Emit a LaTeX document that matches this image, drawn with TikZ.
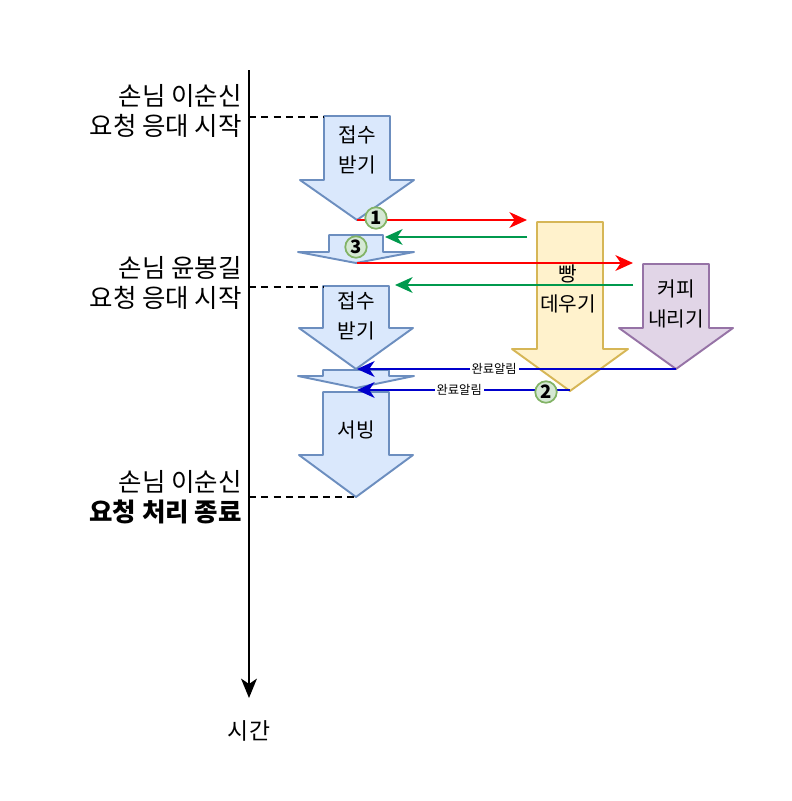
\documentclass[tikz,border=0pt]{standalone}
\usepackage{fontspec}
\setmainfont{Noto Sans CJK KR}
\usepackage{tikz}
\usetikzlibrary{arrows.meta}
\definecolor{recvfill}{HTML}{DAE8FC}
\definecolor{recvline}{HTML}{6C8EBF}
\definecolor{breadfill}{HTML}{FFF2CC}
\definecolor{breadline}{HTML}{D6B656}
\definecolor{coffeefill}{HTML}{E1D5E7}
\definecolor{coffeeline}{HTML}{9673A6}
\definecolor{markfill}{HTML}{D5E8D4}
\definecolor{markline}{HTML}{82B366}
\definecolor{reqred}{HTML}{FF0000}
\definecolor{backgreen}{HTML}{00994D}
\definecolor{doneblue}{HTML}{0000CC}

% block arrow: style, centre x, shaft half, head half, top, neck, tip
\newcommand{\blockarrow}[7]{%
  \draw[#1] (#2-#3,#5) -- (#2+#3,#5) -- (#2+#3,#6) -- (#2+#4,#6) -- (#2,#7)
    -- (#2-#4,#6) -- (#2-#3,#6) -- cycle;}

\begin{document}
\begin{tikzpicture}[
  x=0.02cm, y=-0.02cm,
  every node/.style={font=\fontsize{11.5}{17}\selectfont},
  recv/.style={draw=recvline, fill=recvfill, line width=1.1pt, line join=round},
  bread/.style={draw=breadline, fill=breadfill, line width=1.1pt, line join=round},
  coffee/.style={draw=coffeeline, fill=coffeefill, line width=1.1pt, line join=round},
  tasktext/.style={align=center, font=\fontsize{11.5}{17.5}\selectfont},
  sidelabel/.style={anchor=east, align=right, inner sep=0pt,
    font=\fontsize{14.5}{17}\selectfont},
  ordermark/.style={circle, draw=markline, fill=markfill, line width=1pt,
    inner sep=0pt, minimum size=0.43cm, font=\fontsize{10.5}{10.5}\selectfont\bfseries},
  headtip/.style={-{Stealth[length=10pt, width=9pt, inset=3pt]}},
  reqarrow/.style={headtip, draw=reqred, fill=reqred, line width=1pt},
  backarrow/.style={headtip, draw=backgreen, fill=backgreen, line width=1pt},
  donearrow/.style={headtip, draw=doneblue, fill=doneblue, line width=1pt},
  donelabel/.style={fill=white, inner sep=1pt, font=\fontsize{7}{7}\selectfont},
  guide/.style={line width=0.8pt, dash pattern=on 4pt off 3pt}
]
\useasboundingbox (0,0) rectangle (791,801);

% Time axis
\coordinate (ttop) at (249,70);
\coordinate (tend) at (249,698);
\draw[line width=1.2pt, -{Stealth[length=11pt, width=9pt, inset=3pt]}] (ttop) -- (tend);
\node (time) at (249,731) [font=\fontsize{13}{14}\selectfont] {시간};

% Side labels
\node[sidelabel] (lee1) at (242,111) {손님 이순신\\요청 응대 시작};
\node[sidelabel] (yun) at (242,283) {손님 윤봉길\\요청 응대 시작};
\node[sidelabel] (lee2) at (242,497) {손님 이순신\\\textbf{요청 처리 종료}};

% Task arrows
\blockarrow{recv}{357}{33}{57}{116}{180}{220}
\blockarrow{recv}{356}{27}{58}{235}{252}{263}
\blockarrow{recv}{356}{33}{57}{286}{328}{369}
\blockarrow{recv}{356}{33}{58}{370}{376}{388}
\blockarrow{recv}{356}{33}{57}{392}{455}{497}
\blockarrow{bread}{570}{33}{58}{222}{349}{391}
\blockarrow{coffee}{676}{33}{57}{264}{328}{369}

\node[tasktext] (recv1) at (357,150) {접수\\받기};
\node[tasktext] (recv2) at (356,316) {접수\\받기};
\node[tasktext] (serve) at (356,430) {서빙};
\node[tasktext] (bread) at (568,289) {빵\\데우기};
\node[tasktext] (coffee) at (676,304) {커피\\내리기};

% Guide lines
\coordinate (g1) at (249,117);
\coordinate (g1e) at (324,117);
\coordinate (g2) at (249,287);
\coordinate (g2e) at (323,287);
\coordinate (g3) at (249,497);
\coordinate (g3e) at (356,497);
\draw[guide] (g1) -- (g1e);
\draw[guide] (g2) -- (g2e);
\draw[guide] (g3) -- (g3e);

% Requests and replies
\coordinate (r1s) at (357,220);
\coordinate (r1e) at (527,220);
\coordinate (b1s) at (527,237);
\coordinate (b1e) at (385,237);
\coordinate (r2s) at (357,263);
\coordinate (r2e) at (633,263);
\coordinate (b2s) at (633,285);
\coordinate (b2e) at (395,285);
\draw[reqarrow] (r1s) -- (r1e);
\draw[backarrow] (b1s) -- (b1e);
\draw[reqarrow] (r2s) -- (r2e);
\draw[backarrow] (b2s) -- (b2e);

% Done signals
\coordinate (d1s) at (676,369);
\coordinate (d1e) at (357,369);
\coordinate (d2s) at (570,390);
\coordinate (d2e) at (357,390);
\draw[donearrow] (d1s) -- node[donelabel, pos=0.57] {완료알림} (d1e);
\draw[donearrow] (d2s) -- node[donelabel, pos=0.52] {완료알림} (d2e);

% Order marks
\node[ordermark] (m1) at (376,218) {1};
\node[ordermark] (m3) at (356,247) {3};
\node[ordermark] (m2) at (546,392) {2};

\end{tikzpicture}
\end{document}
